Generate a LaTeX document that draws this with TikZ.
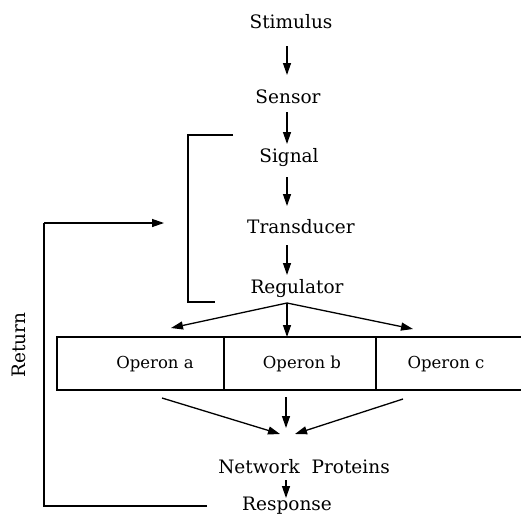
\documentclass[tikz,border=0pt]{standalone}
\usepackage{fontspec}
\setmainfont{DejaVu Serif}
\usetikzlibrary{arrows.meta}
\begin{document}
\begin{tikzpicture}[x=1pt,y=-1pt,
  lbl/.style={font=\fontsize{18.5}{22}\selectfont, inner sep=0pt, anchor=center},
  oplbl/.style={font=\fontsize{16.5}{19}\selectfont, inner sep=0pt, anchor=center},
  arr/.style={line width=1.3pt, -{Triangle[length=12pt,width=8pt]}},
  ln/.style={line width=1.2pt}]
\useasboundingbox (0,0) rectangle (521,517);
\node[lbl] (stim) at (291,22) {Stimulus};
\node[lbl] (sens) at (288,97) {Sensor};
\node[lbl] (sig) at (289,158) {Signal};
\node[lbl] (trans) at (301,227) {Transducer};
\node[lbl] (reg) at (297,289) {Regulator};
\node[oplbl] (opa) at (155,364) {Operon a};
\node[oplbl] (opb) at (302,364) {Operon b};
\node[oplbl] (opc) at (446,364) {Operon c};
\node[lbl] (net) at (304,467) {Network\ \ Proteins};
\node[lbl] (resp) at (287,506) {Response};
\node[lbl, rotate=90] (ret) at (19,345) {Return};
% box
\draw[ln] (521,337) -- (57,337) -- (57,390) -- (521,390);
\draw[ln] (224,337) -- (224,390);
\draw[ln] (376,337) -- (376,390);
% coordinates
\coordinate (s1) at (287,46); \coordinate (e1) at (287,75);
\coordinate (s2) at (287,112); \coordinate (e2) at (287,144);
\coordinate (s3) at (287,177); \coordinate (e3) at (287,206);
\coordinate (s4) at (287,245); \coordinate (e4) at (287,275);
\coordinate (rf) at (287,303);
\coordinate (fa) at (171,328); \coordinate (fb) at (287,337); \coordinate (fc) at (413,329);
\coordinate (ga) at (162,398); \coordinate (gb) at (286,397); \coordinate (gc) at (403,399);
\coordinate (ha) at (280,434); \coordinate (hb) at (286,428); \coordinate (hc) at (295,434);
\coordinate (s5) at (286,480); \coordinate (e5) at (286,498);
\draw[arr] (s1) -- (e1);
\draw[arr] (s2) -- (e2);
\draw[arr] (s3) -- (e3);
\draw[arr] (s4) -- (e4);
\draw[arr] (rf) -- (fa);
\draw[arr] (rf) -- (fb);
\draw[arr] (rf) -- (fc);
\draw[arr] (ga) -- (ha);
\draw[arr] (gb) -- (hb);
\draw[arr] (gc) -- (hc);
\draw[arr] (s5) -- (e5);
% bracket
\coordinate (b1) at (233,135); \coordinate (b2) at (188,135);
\coordinate (b3) at (188,302); \coordinate (b4) at (215,302);
\draw[ln] (b1) -- (b2) -- (b3) -- (b4);
% return loop
\coordinate (r1) at (207,506); \coordinate (r2) at (44,506);
\coordinate (r3) at (44,223); \coordinate (r4) at (164,223);
\draw[ln] (r1) -- (r2) -- (r3);
\draw[arr] (r3) -- (r4);
\end{tikzpicture}
\end{document}
